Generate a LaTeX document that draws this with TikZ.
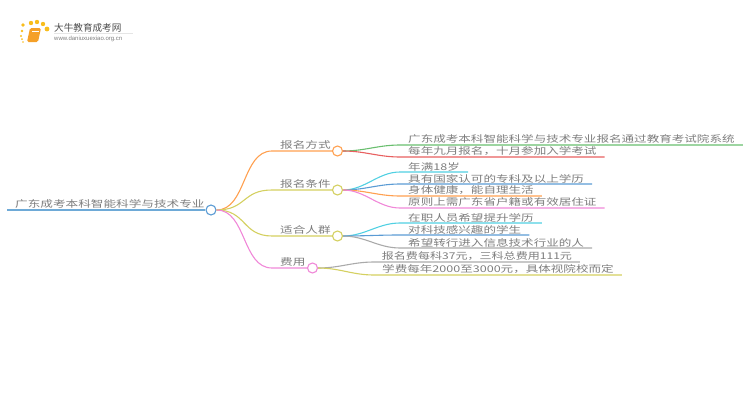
\documentclass[tikz,border=0pt]{standalone}
\usepackage{fontspec}
\usepackage{xcolor}
\usepackage{tikz}
\usetikzlibrary{positioning}
\setmainfont{Liberation Sans}
\newfontfamily\cjkroot[FakeStretch=1.35]{Noto Sans CJK SC}
\newfontfamily\cjklogo{Noto Sans CJK SC}
\definecolor{textgray}{RGB}{125, 125, 125}
\definecolor{rootblue}{RGB}{110, 170, 215}
\definecolor{mapgreen}{RGB}{105, 190, 110}
\definecolor{mapred}{RGB}{232, 96, 96}
\definecolor{mapcyan}{RGB}{80, 208, 226}
\definecolor{mapblue}{RGB}{90, 155, 212}
\definecolor{maporange}{RGB}{255, 160, 80}
\definecolor{mappink}{RGB}{240, 136, 216}
\definecolor{mapgray}{RGB}{170, 170, 170}
\definecolor{mapyellow}{RGB}{212, 208, 96}
\definecolor{logoorange}{RGB}{245, 160, 40}
\tikzset{
  rootlabel/.style={
    font={\cjkroot\fontsize{9.35}{12}\selectfont},
    text=textgray,
    inner xsep=8pt,
    inner ysep=1.5pt,
    anchor=south west
  },
  branchlabel/.style={
    rootlabel
  },
  leaflabel/.style={
    font={\cjkroot\fontsize{9.3}{12}\selectfont},
    text=textgray,
    inner xsep=8pt,
    inner ysep=1pt,
    anchor=south west
  },
  mapdot/.style={
    circle,
    draw=#1,
    fill=white,
    line width=1.1pt,
    minimum width=10pt,
    minimum height=8pt,
    inner sep=0pt
  },
  mapline/.style={
    line width=1.1pt,
    draw=#1
  },
  sundot/.style={
    fill=logoorange!70!yellow,
    draw=none
  }
}

\begin{document}
\begin{tikzpicture}[x=1pt,y=-1pt]
  \useasboundingbox (0,0) rectangle (750,410);

  % logo
  \foreach \px/\py/\pr in {23/25/1.8,31/23/2.2,37/22/2.2,43/24/2.2,47/29/2.4,22/31/1.3,21/36/1.1,22/39/1,23/42/.9}
    \fill[sundot] (\px,\py) circle (\pr);
  \fill[logoorange, rounded corners=1.5pt] (30,28) -- (41,28) -- (38,42) -- (27,42) -- cycle;
  \draw[white, line width=.5pt] (32,31) -- (38.5,31);
  \node[font={\cjklogo\fontsize{9.6}{11}\selectfont}, text=black!70, inner sep=0pt, anchor=west] (logotitle) at (54,27.5) {大牛教育成考网};
  \node[font=\fontsize{6}{7}\selectfont, text=textgray, inner sep=0pt, anchor=west] (logourl) at (54,39) {www.daniuxuexiao.org.cn};
  \draw[black!10] (54,33.5) -- (133,33.5);

  % root
  \node[rootlabel] (root) at (7,210) {广东成考本科智能科学与技术专业};
  \node[mapdot=mapblue] (rootdot) at (211,210) {};
  \draw[draw=rootblue, line width=2pt] (root.south west) -- (rootdot.west);

  % branches
  \node[branchlabel] (way) at (272,151) {报名方式};
  \node[branchlabel] (cond) at (272,190) {报名条件};
  \node[branchlabel] (people) at (272,236) {适合人群};
  \node[branchlabel] (fee) at (272,268) {费用};
  \node[mapdot=maporange] (waydot) at (337.5,151) {};
  \node[mapdot=mapyellow] (conddot) at (337.5,190) {};
  \node[mapdot=mapyellow] (peopledot) at (337.5,236) {};
  \node[mapdot=mappink] (feedot) at (312.5,268) {};

  \draw[mapline=maporange] (rootdot.east) .. controls +(30,0) and +(-30,0) .. (way.south west) -- (waydot.west);
  \draw[mapline=mapyellow] (rootdot.east) .. controls +(30,0) and +(-30,0) .. (cond.south west) -- (conddot.west);
  \draw[mapline=mapyellow] (rootdot.east) .. controls +(30,0) and +(-30,0) .. (people.south west) -- (peopledot.west);
  \draw[mapline=mappink] (rootdot.east) .. controls +(30,0) and +(-30,0) .. (fee.south west) -- (feedot.west);

  % leaves
  \node[leaflabel] (wayA) at (400,145) {广东成考本科智能科学与技术专业报名通过教育考试院系统};
  \node[leaflabel] (wayB) at (400,157) {每年九月报名，十月参加入学考试};
  \node[leaflabel] (condA) at (400,172) {年满18岁};
  \node[leaflabel] (condB) at (400,184) {具有国家认可的专科及以上学历};
  \node[leaflabel] (condC) at (400,196) {身体健康，能自理生活};
  \node[leaflabel] (condD) at (400,208) {原则上需广东省户籍或有效居住证};
  \node[leaflabel] (peopleA) at (400,223) {在职人员希望提升学历};
  \node[leaflabel] (peopleB) at (400,235) {对科技感兴趣的学生};
  \node[leaflabel] (peopleC) at (400,248) {希望转行进入信息技术行业的人};
  \node[leaflabel, xscale=.96] (feeA) at (374,262) {报名费每科37元，三科总费用111元};
  \node[leaflabel] (feeB) at (374,275) {学费每年2000至3000元，具体视院校而定};

  \draw[mapline=mapgreen] (waydot.east) .. controls +(22,0) and +(-22,0) .. (wayA.south west) -- (wayA.south east);
  \draw[mapline=mapred] (waydot.east) .. controls +(22,0) and +(-22,0) .. (wayB.south west) -- (wayB.south east);
  \draw[mapline=mapcyan] (conddot.east) .. controls +(22,0) and +(-22,0) .. (condA.south west) -- (condA.south east);
  \draw[mapline=mapblue] (conddot.east) .. controls +(22,0) and +(-22,0) .. (condB.south west) -- (condB.south east);
  \draw[mapline=maporange] (conddot.east) .. controls +(22,0) and +(-22,0) .. (condC.south west) -- (condC.south east);
  \draw[mapline=mappink] (conddot.east) .. controls +(22,0) and +(-22,0) .. (condD.south west) -- (condD.south east);
  \draw[mapline=mapcyan] (peopledot.east) .. controls +(22,0) and +(-22,0) .. (peopleA.south west) -- (peopleA.south east);
  \draw[mapline=mapblue] (peopledot.east) .. controls +(22,0) and +(-22,0) .. (peopleB.south west) -- (peopleB.south east);
  \draw[mapline=mapgray] (peopledot.east) .. controls +(22,0) and +(-22,0) .. (peopleC.south west) -- (peopleC.south east);
  \draw[mapline=mapgray] (feedot.east) .. controls +(22,0) and +(-22,0) .. (feeA.south west) -- (feeA.south east);
  \draw[mapline=mapyellow] (feedot.east) .. controls +(22,0) and +(-22,0) .. (feeB.south west) -- (feeB.south east);
\end{tikzpicture}
\end{document}
